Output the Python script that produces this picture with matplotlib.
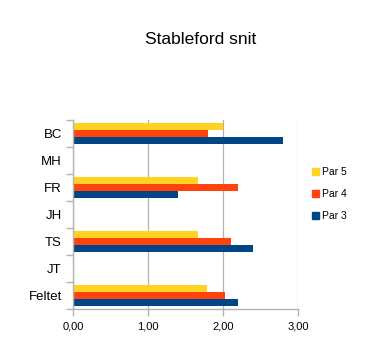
import matplotlib.pyplot as plt
import numpy as np
from matplotlib.patches import Patch
from matplotlib.ticker import FuncFormatter, FixedLocator

plt.rcParams['font.family'] = ['Liberation Sans', 'DejaVu Sans']

# Data (bottom to top)
categories = ['Feltet', 'JT', 'TS', 'JH', 'FR', 'MH', 'BC']
par3 = [2.20, np.nan, 2.40, np.nan, 1.40, np.nan, 2.80]
par4 = [2.03, np.nan, 2.10, np.nan, 2.20, np.nan, 1.80]
par5 = [1.78, np.nan, 1.67, np.nan, 1.67, np.nan, 2.00]

yellow = '#ffd320'
orange = '#ff420e'
blue = '#004586'
gray = '#b3b3b3'

fig = plt.figure(figsize=(3.74, 3.53), dpi=100)
ax = fig.add_axes([0.195, 0.125, 0.602, 0.535])

y = np.arange(len(categories))
h = 0.25
ax.barh(y - h, par3, height=h, color=blue, label='Par 3')
ax.barh(y, par4, height=h, color=orange, label='Par 4')
ax.barh(y + h, par5, height=h, color=yellow, label='Par 5')

ax.set_xlim(0, 3)
ax.set_ylim(-0.5, len(categories) - 0.5)
ax.set_xticks([0, 1, 2, 3])
ax.xaxis.set_major_formatter(FuncFormatter(lambda v, p: f'{v:.2f}'.replace('.', ',')))
ax.set_yticks(y)
ax.set_yticklabels(categories, fontsize=9.5)
ax.yaxis.set_minor_locator(FixedLocator(np.arange(-0.5, len(categories), 1.0)))
ax.tick_params(axis='y', which='major', length=0, pad=8)
ax.tick_params(axis='y', which='minor', length=5, color=gray, width=1)
ax.tick_params(axis='x', length=5, color=gray, width=1, labelsize=8, pad=4)

ax.grid(axis='x', color=gray, linewidth=0.9)
ax.set_axisbelow(True)
for s in ['top', 'right']:
    ax.spines[s].set_visible(False)
for s in ['left', 'bottom']:
    ax.spines[s].set_color(gray)
    ax.spines[s].set_linewidth(1)

fig.text(0.537, 0.887, 'Stableford snit', ha='center', va='center', fontsize=12.5)

handles = [Patch(color=yellow), Patch(color=orange), Patch(color=blue)]
fig.legend(handles, ['Par 5', 'Par 4', 'Par 3'], loc='center left',
           bbox_to_anchor=(0.81, 0.45), frameon=False, fontsize=7.5,
           handlelength=0.6, handleheight=0.6, handletextpad=0.3,
           labelspacing=1.15)

fig.savefig('out.png', dpi=100)
